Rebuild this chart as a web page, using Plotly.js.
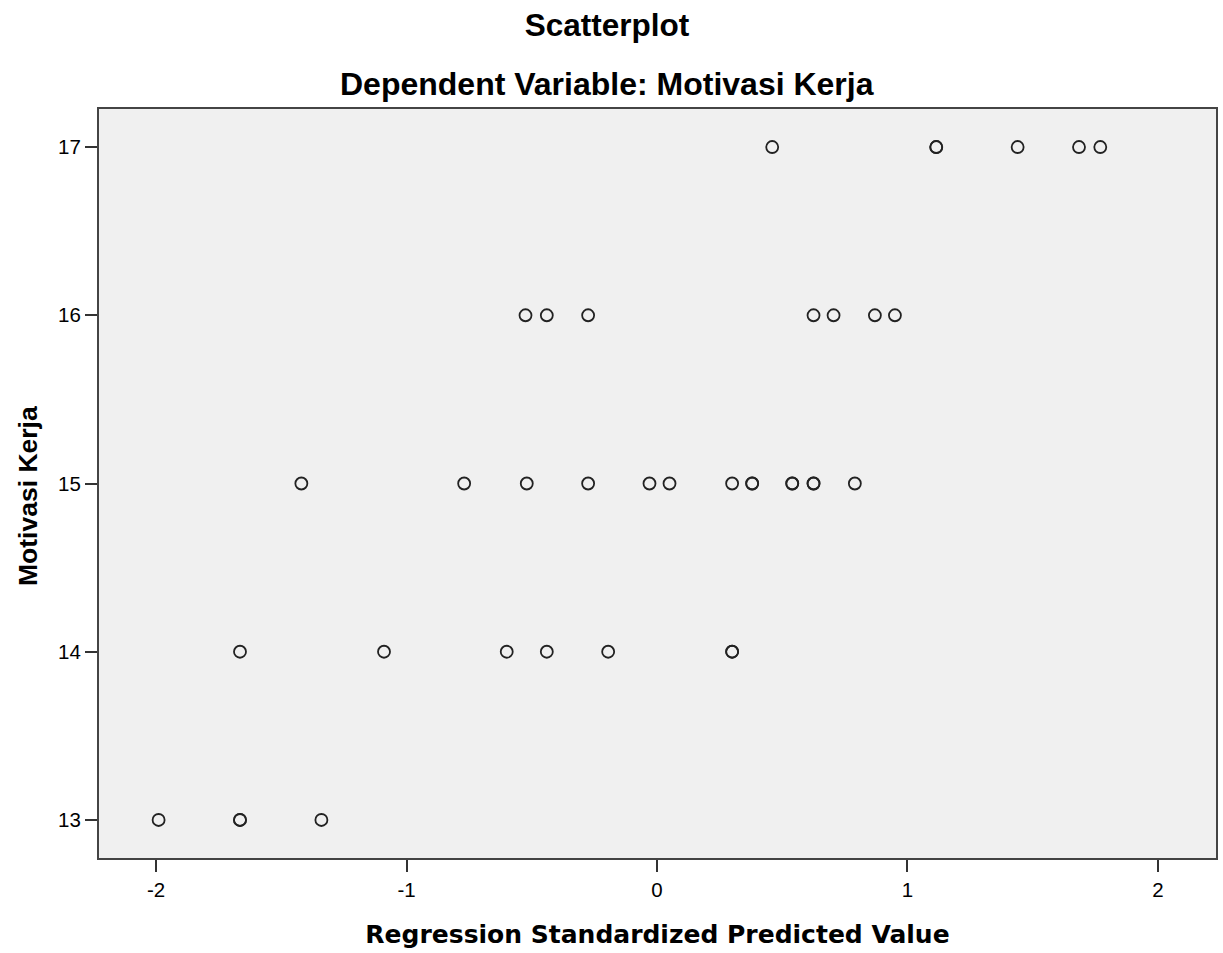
<!DOCTYPE html>
<html>
<head>
<meta charset="utf-8">
<script src="https://cdn.plot.ly/plotly-3.0.1.min.js"></script>
<style>html,body{margin:0;padding:0;background:#fff;}#chart{width:1223px;height:953px;}</style>
</head>
<body>
<div id="chart"></div>
<script>
// Regression standardized predicted values (x) and observed Motivasi Kerja (y)
const predicted = [
  0.46, 1.115, 1.115, 1.44, 1.685, 1.77,
  -0.525, -0.44, -0.275, 0.625, 0.705, 0.87, 0.95,
  -1.42, -0.77, -0.52, -0.275, -0.03, 0.05, 0.30, 0.38, 0.38, 0.54, 0.54, 0.625, 0.625, 0.79,
  -1.665, -1.09, -0.60, -0.44, -0.195, 0.30, 0.30,
  -1.99, -1.665, -1.665, -1.34
];
const motivasi = [
  17, 17, 17, 17, 17, 17,
  16, 16, 16, 16, 16, 16, 16,
  15, 15, 15, 15, 15, 15, 15, 15, 15, 15, 15, 15, 15, 15,
  14, 14, 14, 14, 14, 14, 14,
  13, 13, 13, 13
];
const xTicks = [-2, -1, 0, 1, 2];
const yTicks = [13, 14, 15, 16, 17];

const font = "Arial, 'Liberation Sans', sans-serif";
const wideFont = "'DejaVu Sans', Verdana, sans-serif";

const trace = {
  type: 'scatter',
  mode: 'markers',
  x: predicted,
  y: motivasi,
  marker: {
    symbol: 'circle-open',
    size: 12,
    color: '#222222',
    line: {width: 1.8, color: '#222222'}
  },
  hoverinfo: 'x+y'
};

const layout = {
  width: 1223,
  height: 953,
  margin: {l: 99, r: 7, t: 109, b: 95},
  paper_bgcolor: '#ffffff',
  plot_bgcolor: '#f0f0f0',
  showlegend: false,
  font: {family: font, color: '#000000'},
  title: {
    text: '<b>Scatterplot</b>',
    font: {family: font, size: 31.5, color: '#000'},
    x: (607 / 1223), xref: 'container', xanchor: 'center',
    y: 1 - 25 / 953, yref: 'container', yanchor: 'middle'
  },
  annotations: [{
    text: '<b>Dependent Variable: Motivasi Kerja</b>',
    xref: 'paper', yref: 'paper',
    x: (607 - 99) / (1216 - 99), y: (858 - 84) / 749,
    xanchor: 'center', yanchor: 'middle',
    showarrow: false,
    font: {family: font, size: 32, color: '#000'}
  }, {
    text: '<b>Motivasi Kerja</b>',
    xref: 'paper', yref: 'paper',
    x: (28 - 99) / (1216 - 99), y: (858 - 496) / 749,
    xanchor: 'center', yanchor: 'middle',
    textangle: -90,
    showarrow: false,
    font: {family: font, size: 26.5, color: '#000'}
  }],
  xaxis: {
    range: [-2.228, 2.232],
    tickvals: xTicks,
    ticktext: xTicks.map(String),
    ticks: 'outside', ticklen: 12, tickwidth: 2, tickcolor: '#333',
    tickfont: {family: font, size: 20.5, color: '#000'},
    showgrid: false, zeroline: false,
    showline: true, linecolor: '#444', linewidth: 2, mirror: true,
    title: {
      text: '<b>Regression Standardized Predicted Value</b>',
      font: {family: wideFont, size: 25, color: '#000'},
      standoff: 26
    }
  },
  yaxis: {
    range: [12.774, 17.226],
    tickvals: yTicks,
    ticktext: yTicks.map(String),
    ticks: 'outside', ticklen: 12, tickwidth: 2, tickcolor: '#333',
    tickfont: {family: font, size: 20.5, color: '#000'},
    showgrid: false, zeroline: false,
    showline: true, linecolor: '#444', linewidth: 2, mirror: true
  }
};

Plotly.newPlot('chart', [trace], layout, {displayModeBar: false, staticPlot: true});
</script>
</body>
</html>
